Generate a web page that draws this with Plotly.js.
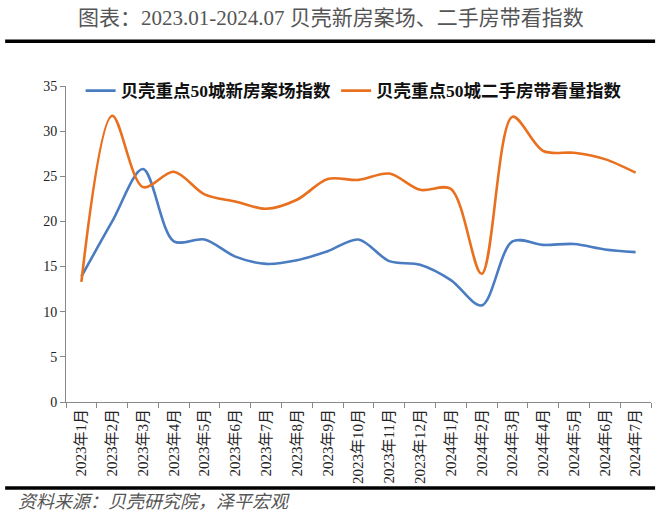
<!DOCTYPE html>
<html>
<head>
<meta charset="utf-8">
<script src="https://cdn.plot.ly/plotly-3.0.1.min.js"></script>
<style>
  body { margin: 0; padding: 0; background: #fff; }
  #chart { width: 660px; height: 518px; }
</style>
</head>
<body>
<div id="chart"></div>
<script>
// months 2023.01 - 2024.07
var months = [
  "2023年1月", "2023年2月", "2023年3月", "2023年4月", "2023年5月", "2023年6月",
  "2023年7月", "2023年8月", "2023年9月", "2023年10月", "2023年11月", "2023年12月",
  "2024年1月", "2024年2月", "2024年3月", "2024年4月", "2024年5月", "2024年6月", "2024年7月"
];
var newHouse = [13.9, 20.0, 25.8, 17.8, 18.0, 16.1, 15.3, 15.7, 16.7, 18.0,
  15.6, 15.2, 13.5, 10.7, 17.8, 17.4, 17.5, 16.9, 16.6];
var secondHand = [13.3, 31.7, 23.8, 25.5, 23.0, 22.2, 21.4, 22.4, 24.7, 24.6,
  25.3, 23.5, 23.6, 14.2, 31.6, 27.8, 27.6, 26.9, 25.4];
var yTicks = [0, 5, 10, 15, 20, 25, 30, 35];

var cnFont = '"Liberation Serif", "Noto Sans CJK SC", serif';

var data = [
  {
    x: months, y: newHouse, type: "scatter", mode: "lines",
    name: "贝壳重点50城新房案场指数",
    line: { color: "#4a7cc2", width: 2.6, shape: "spline", smoothing: 0.9 }
  },
  {
    x: months, y: secondHand, type: "scatter", mode: "lines",
    name: "贝壳重点50城二手房带看量指数",
    line: { color: "#e8701f", width: 2.6, shape: "spline", smoothing: 0.9 }
  }
];

var layout = {
  width: 660,
  height: 518,
  margin: { l: 66, r: 9, t: 86, b: 116 },
  paper_bgcolor: "#fff",
  plot_bgcolor: "#fff",
  font: { family: cnFont, color: "#222", size: 13 },
  showlegend: true,
  legend: {
    orientation: "h", x: 0.025, y: 0.985, xanchor: "left", yanchor: "middle",
    font: { family: cnFont, size: 17.5, color: "#111", weight: "bold" },
    bgcolor: "rgba(255,255,255,0)", itemwidth: 30, tracegroupgap: 0
  },
  xaxis: {
    type: "category",
    tickangle: -90,
    tickson: "boundaries",
    ticks: "outside", ticklen: 5, tickcolor: "#888",
    showline: true, linecolor: "#888", linewidth: 1,
    showgrid: false, zeroline: false,
    tickfont: { family: cnFont, size: 15, color: "#222" },
    range: [-0.5, 18.5]
  },
  yaxis: {
    range: [0, 35],
    tickvals: yTicks,
    ticks: "outside", ticklen: 5, tickcolor: "#888",
    showline: true, linecolor: "#888", linewidth: 1,
    showgrid: false, zeroline: false,
    tickfont: { family: cnFont, size: 14, color: "#222" }
  },
  annotations: [
    {
      text: "图表：2023.01-2024.07 贝壳新房案场、二手房带看指数",
      xref: "paper", yref: "paper", x: 0.5, y: 1.215, xanchor: "center", yanchor: "middle",
      showarrow: false, font: { family: cnFont, size: 21, color: "#555" }, xshift: -28
    },
    {
      text: "<i>资料来源：贝壳研究院，泽平宏观</i>",
      xref: "paper", yref: "paper", x: -0.086, y: -0.318, xanchor: "left", yanchor: "middle",
      showarrow: false, font: { family: cnFont, size: 18, color: "#555" }
    }
  ],
  shapes: [
    { type: "line", xref: "paper", yref: "paper", x0: -0.104, x1: 1.007, y0: 1.142, y1: 1.142,
      line: { color: "#000", width: 3.5 } },
    { type: "line", xref: "paper", yref: "paper", x0: -0.104, x1: 1.007, y0: -0.272, y1: -0.272,
      line: { color: "#000", width: 3.5 } }
  ]
};

Plotly.newPlot("chart", data, layout, { displayModeBar: false, staticPlot: true });
</script>
</body>
</html>
